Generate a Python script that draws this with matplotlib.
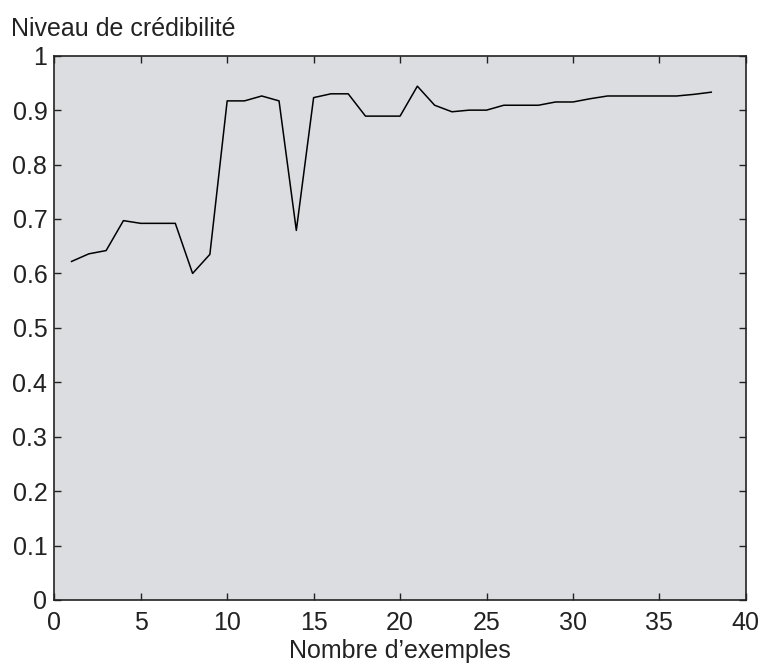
import numpy as np
import matplotlib.pyplot as plt

plt.rcParams['font.family'] = ['Liberation Sans', 'DejaVu Sans']

# number of examples vs credibility level
n_examples = np.arange(1, 39)
credibility = [0.622, 0.636, 0.642, 0.697, 0.692, 0.692, 0.692, 0.600, 0.635, 0.917,
               0.917, 0.926, 0.917, 0.679, 0.923, 0.930, 0.930, 0.889, 0.889, 0.889,
               0.944, 0.909, 0.897, 0.900, 0.900, 0.909, 0.909, 0.909, 0.915, 0.915,
               0.921, 0.926, 0.926, 0.926, 0.926, 0.926, 0.929, 0.933]

x_ticks = [0, 5, 10, 15, 20, 25, 30, 35, 40]
y_ticks = [0, 0.1, 0.2, 0.3, 0.4, 0.5, 0.6, 0.7, 0.8, 0.9, 1]
y_ticklabels = ['0', '0.1', '0.2', '0.3', '0.4', '0.5', '0.6', '0.7', '0.8', '0.9', '1']

txt = '#222222'

fig = plt.figure(figsize=(7.6, 6.64), dpi=100)
ax = fig.add_axes([0.0714, 0.0964, 0.910, 0.8197])
ax.set_facecolor('#dcdde0')

ax.plot(n_examples, credibility, color='black', linewidth=1.1)

ax.set_xlim(0, 40)
ax.set_ylim(0, 1)
ax.set_xticks(x_ticks)
ax.set_yticks(y_ticks)
ax.set_yticklabels(y_ticklabels)
ax.tick_params(direction='in', top=True, right=True, length=5, width=1,
               labelsize=18, color=txt, labelcolor=txt)
ax.tick_params(axis='x', pad=8)
ax.tick_params(axis='y', pad=5)
for s in ax.spines.values():
    s.set_linewidth(1.2)
    s.set_color(txt)

ax.set_xlabel('Nombre d\u2019exemples', fontsize=18, labelpad=3, color=txt)
fig.text(0.014, 0.957, 'Niveau de crédibilité', fontsize=18, ha='left', va='center', color=txt)

fig.savefig('out.png', dpi=100)
